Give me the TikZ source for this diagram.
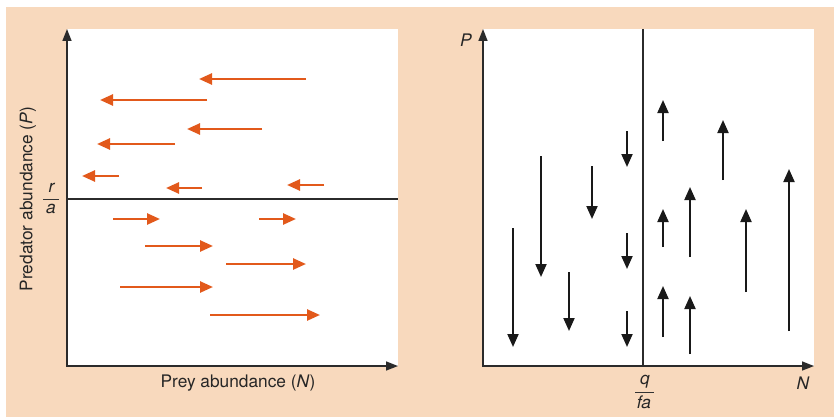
\documentclass[tikz,border=0pt]{standalone}
\usepackage{fontspec}
\setmainfont{TeX Gyre Heros}
\usetikzlibrary{arrows.meta}
\definecolor{peach}{HTML}{F8D9BD}
\definecolor{arrorange}{HTML}{E2591B}
\definecolor{axisgray}{HTML}{2B2B2B}
\begin{document}
\begin{tikzpicture}[x=1pt,y=-1pt,
  axes/.style={line width=1.6pt, draw=axisgray, {Triangle[length=12pt,width=9pt]}-{Triangle[length=12pt,width=9pt]}},
  orangearrow/.style={line width=2.5pt, color=arrorange, -{Triangle[length=13pt,width=11pt]}},
  blackarrow/.style={line width=2pt, color=black!90, -{Triangle[length=13pt,width=11pt]}},
  thinline/.style={line width=1.3pt, draw=axisgray},
  fracbar/.style={line width=0.9pt, draw=black!80},
  lbl/.style={font=\fontsize{17.3}{20}\selectfont, inner sep=0pt, text=black!85}
]
\useasboundingbox (0,0) rectangle (834,417);
\fill[white] (0,0) rectangle (834,417);
\fill[peach] (6,7) rectangle (834,417);
\fill[white] (67,29) rectangle (398,366);
\fill[white] (483,29) rectangle (814,366);

% ---------- left panel ----------
\coordinate (L-top) at (67,29);
\coordinate (L-orig) at (67,366);
\coordinate (L-right) at (398,366);
\draw[axes] (L-top) -- (L-orig) -- (L-right);
\coordinate (ra-l) at (67,199);
\coordinate (ra-r) at (398,199);
\draw[thinline] (ra-l) -- (ra-r);
\node[lbl] (rnum) at (52,188) {\textit{r}};
\node[lbl] (aden) at (51,209) {\textit{a}};
\coordinate (rabar-l) at (43,199);
\coordinate (rabar-r) at (59,199);
\draw[fracbar] (rabar-l) -- (rabar-r);
\node[lbl] (xlab) at (238,383) {Prey abundance (\textit{N})};
\node[lbl, rotate=90] (ylab) at (28,199) {Predator abundance (\textit{P})};

% leftward arrows
\draw[orangearrow] (306,79) -- (199,79);
\draw[orangearrow] (207,100) -- (100,100);
\draw[orangearrow] (262,129) -- (187,129);
\draw[orangearrow] (175,144) -- (97,144);
\draw[orangearrow] (119,176) -- (82,176);
\draw[orangearrow] (202,188) -- (166,188);
\draw[orangearrow] (324,185) -- (287,185);
% rightward arrows
\draw[orangearrow] (113,219) -- (160,219);
\draw[orangearrow] (259,219) -- (296,219);
\draw[orangearrow] (145,246) -- (213,246);
\draw[orangearrow] (226,264) -- (306,264);
\draw[orangearrow] (120,287) -- (213,287);
\draw[orangearrow] (210,315) -- (320,315);

% ---------- right panel ----------
\coordinate (R-top) at (483,29);
\coordinate (R-orig) at (483,366);
\coordinate (R-right) at (814,366);
\draw[axes] (R-top) -- (R-orig) -- (R-right);
\coordinate (q-top) at (643,29);
\coordinate (q-bot) at (643,366);
\draw[thinline] (q-top) -- (q-bot);
\node[lbl] (plab) at (466,40) {\textit{P}};
\node[lbl] (nlab) at (803,383) {\textit{N}};
\node[lbl] (qnum) at (645,382) {\textit{q}};
\node[lbl] (faden) at (644,402) {\textit{fa}};
\coordinate (qbar-l) at (635,392);
\coordinate (qbar-r) at (654,392);
\draw[fracbar] (qbar-l) -- (qbar-r);

% downward arrows
\draw[blackarrow] (513,228) -- (513,347);
\draw[blackarrow] (541,156) -- (541,277);
\draw[blackarrow] (569,272) -- (569,331);
\draw[blackarrow] (592,166) -- (592,219);
\draw[blackarrow] (627,131) -- (627,167);
\draw[blackarrow] (627,233) -- (627,269);
\draw[blackarrow] (627,311) -- (627,347);
% upward arrows
\draw[blackarrow] (663,141) -- (663,100);
\draw[blackarrow] (663,247) -- (663,209);
\draw[blackarrow] (663,337) -- (663,286);
\draw[blackarrow] (690,257) -- (690,187);
\draw[blackarrow] (690,354) -- (690,296);
\draw[blackarrow] (723,180) -- (723,120);
\draw[blackarrow] (746,292) -- (746,209);
\draw[blackarrow] (789,331) -- (789,169);
\end{tikzpicture}
\end{document}
